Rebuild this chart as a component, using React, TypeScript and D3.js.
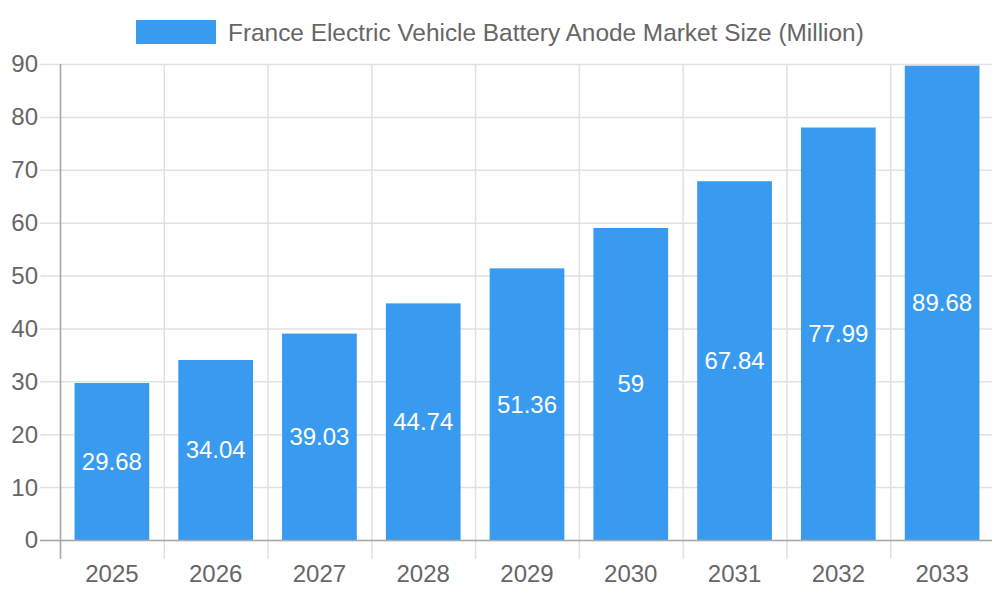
import { useEffect, useRef } from 'react'
import * as d3 from 'd3'

const YEARS = ['2025', '2026', '2027', '2028', '2029', '2030', '2031', '2032', '2033']
const VALUES = [29.68, 34.04, 39.03, 44.74, 51.36, 59, 67.84, 77.99, 89.68]
const Y_TICKS = [0, 10, 20, 30, 40, 50, 60, 70, 80, 90]
const SERIES_LABEL = 'France Electric Vehicle Battery Anode Market Size (Million)'

const W = 1000
const H = 600
const MARGIN = { top: 64, right: 6, bottom: 60, left: 60 }
const BAR_COLOR = '#399BF0'
const TEXT = '#666666'
const GRID = '#E1E1E1'
const FONT = '"Liberation Sans", Arial, Helvetica, sans-serif'

export default function App() {
  const svgRef = useRef<SVGSVGElement>(null)

  useEffect(() => {
    const svg = d3.select(svgRef.current!)
    svg.selectAll('*').remove()

    const innerW = W - MARGIN.left - MARGIN.right
    const innerH = H - MARGIN.top - MARGIN.bottom

    const x = d3.scaleBand<string>().domain(YEARS).range([0, innerW]).paddingInner(0).paddingOuter(0)
    const y = d3.scaleLinear([0, 90], [innerH, 0])
    const barW = x.bandwidth() * 0.72

    const g = svg.append('g').attr('transform', `translate(${MARGIN.left},${MARGIN.top})`)

    // ── Grid ──────────────────────────────────────────────────────────────
    g.append('g')
      .selectAll('line')
      .data(Y_TICKS)
      .join('line')
      .attr('x1', -20).attr('x2', innerW)
      .attr('y1', d => y(d) + 0.5).attr('y2', d => y(d) + 0.5)
      .attr('stroke', GRID).attr('stroke-width', 1.5)

    const vLines = YEARS.map((_, i) => i * x.step()).concat([innerW])
    g.append('g')
      .selectAll('line')
      .data(vLines)
      .join('line')
      .attr('x1', d => d + 0.5).attr('x2', d => d + 0.5)
      .attr('y1', 0).attr('y2', innerH + 19)
      .attr('stroke', GRID).attr('stroke-width', 1.5)

    // ── Bars ──────────────────────────────────────────────────────────────
    g.append('g')
      .selectAll('rect')
      .data(VALUES)
      .join('rect')
      .attr('x', (_, i) => x(YEARS[i])! + (x.bandwidth() - barW) / 2)
      .attr('y', d => y(d))
      .attr('width', barW)
      .attr('height', d => innerH - y(d))
      .attr('fill', BAR_COLOR)

    // ── Axes lines ────────────────────────────────────────────────────────
    g.append('line')
      .attr('x1', 0.5).attr('x2', 0.5).attr('y1', 0).attr('y2', innerH + 19)
      .attr('stroke', '#A8A8A8').attr('stroke-width', 1.5)
    g.append('line')
      .attr('x1', -20).attr('x2', innerW).attr('y1', innerH + 0.5).attr('y2', innerH + 0.5)
      .attr('stroke', '#A8A8A8').attr('stroke-width', 1.5)

    // ── Tick labels ───────────────────────────────────────────────────────
    g.append('g')
      .selectAll('text')
      .data(Y_TICKS)
      .join('text')
      .attr('x', -22).attr('y', d => y(d))
      .attr('dy', '0.35em')
      .attr('text-anchor', 'end')
      .attr('font-size', 24).attr('fill', TEXT).attr('font-family', FONT)
      .text(d => d)

    g.append('g')
      .selectAll('text')
      .data(YEARS)
      .join('text')
      .attr('x', d => x(d)! + x.bandwidth() / 2).attr('y', innerH + 34)
      .attr('dy', '0.35em')
      .attr('text-anchor', 'middle')
      .attr('font-size', 24).attr('fill', TEXT).attr('font-family', FONT)
      .text(d => d)

    // ── Value labels ──────────────────────────────────────────────────────
    g.append('g')
      .selectAll('text')
      .data(VALUES)
      .join('text')
      .attr('x', (_, i) => x(YEARS[i])! + x.bandwidth() / 2)
      .attr('y', d => (y(d) + innerH) / 2)
      .attr('dy', '0.35em')
      .attr('text-anchor', 'middle')
      .attr('font-size', 24).attr('fill', '#FFFFFF').attr('font-family', FONT)
      .text(d => d)

    // ── Legend ────────────────────────────────────────────────────────────
    svg.append('rect')
      .attr('x', 136).attr('y', 20).attr('width', 80).attr('height', 24)
      .attr('fill', BAR_COLOR)
    svg.append('text')
      .attr('x', 228).attr('y', 32).attr('dy', '0.35em')
      .attr('font-size', 24.4).attr('fill', TEXT).attr('font-family', FONT)
      .text(SERIES_LABEL)
  }, [])

  return (
    <div style={{ width: W, height: H, margin: -8 }}>
      <svg ref={svgRef} width={W} height={H} style={{ display: 'block' }} />
    </div>
  )
}
